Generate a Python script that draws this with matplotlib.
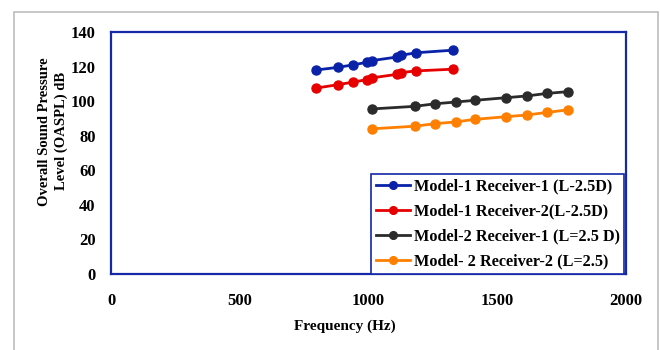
import matplotlib.pyplot as plt
from matplotlib.patches import Rectangle

plt.rcParams['font.family'] = ['Liberation Serif', 'DejaVu Serif']
plt.rcParams['font.weight'] = 'bold'

# frequency (Hz) and OASPL (dB) for each model / receiver
freq_m1 = [795, 880, 940, 995, 1015, 1110, 1125, 1185, 1330]
m1_r1 = [118, 119.5, 121, 122.5, 123.5, 125.5, 126.5, 128, 129.5]
m1_r2 = [107.5, 109.5, 111, 112.5, 113.5, 115.5, 116.5, 117.5, 118.5]

freq_m2 = [1015, 1180, 1260, 1340, 1415, 1535, 1615, 1695, 1775]
m2_r1 = [95.5, 97, 98.5, 99.5, 100.5, 102, 103, 104.5, 105.5]
m2_r2 = [84, 85.5, 87, 88, 89.5, 91, 92, 93.5, 95]

labels = ['Model-1 Receiver-1 (L-2.5D)', 'Model-1 Receiver-2(L-2.5D)',
          'Model-2 Receiver-1 (L=2.5 D)', 'Model- 2 Receiver-2 (L=2.5)']
colors = ['#0a22a8', '#e60000', '#2b2b2b', '#ff7f00']

fig = plt.figure(figsize=(6.6, 3.5), dpi=100)
fig.patches.append(Rectangle((14 / 660, -0.1), 644 / 660, 1 - 12 / 350 + 0.1,
                             transform=fig.transFigure, fill=False,
                             edgecolor='#bdbdbd', linewidth=1.2))
ax = fig.add_axes([111 / 660, 1 - 274 / 350, 515 / 660, 242 / 350])

series = [(freq_m1, m1_r1), (freq_m1, m1_r2), (freq_m2, m2_r1), (freq_m2, m2_r2)]
for (x, y), lab, c in zip(series, labels, colors):
    ax.plot(x, y, '-o', color=c, label=lab, linewidth=2, markersize=6.5)

ax.set_xlim(0, 2000)
ax.set_ylim(0, 140)
ax.set_xticks([0, 500, 1000, 1500, 2000])
ax.set_yticks(range(0, 141, 20))
ax.tick_params(length=0, labelsize=12)
ax.tick_params(axis='x', pad=14)
ax.tick_params(axis='y', pad=11)
for s in ax.spines.values():
    s.set_color('#1428a8')
    s.set_linewidth(1.6)

ax.set_xlabel('Frequency (Hz)', fontsize=11, fontweight='bold')
ax.xaxis.set_label_coords(0.454, -0.19)
ax.set_ylabel('Overall Sound Pressure\nLevel (OASPL) dB', fontsize=10.5,
              fontweight='bold', linespacing=1.35)
ax.yaxis.set_label_coords(-0.083, 0.59)

leg = ax.legend(loc='lower right', bbox_to_anchor=(1.0, -0.008), fontsize=11.7,
                frameon=True, fancybox=False, handlelength=2.1,
                handletextpad=0.2, borderpad=0.3, labelspacing=0.55,
                borderaxespad=0.1, markerscale=0.85)
leg.get_frame().set_edgecolor('#1428a8')
leg.get_frame().set_linewidth(1.2)
leg.get_frame().set_alpha(1)

fig.savefig('out.png', dpi=100)
